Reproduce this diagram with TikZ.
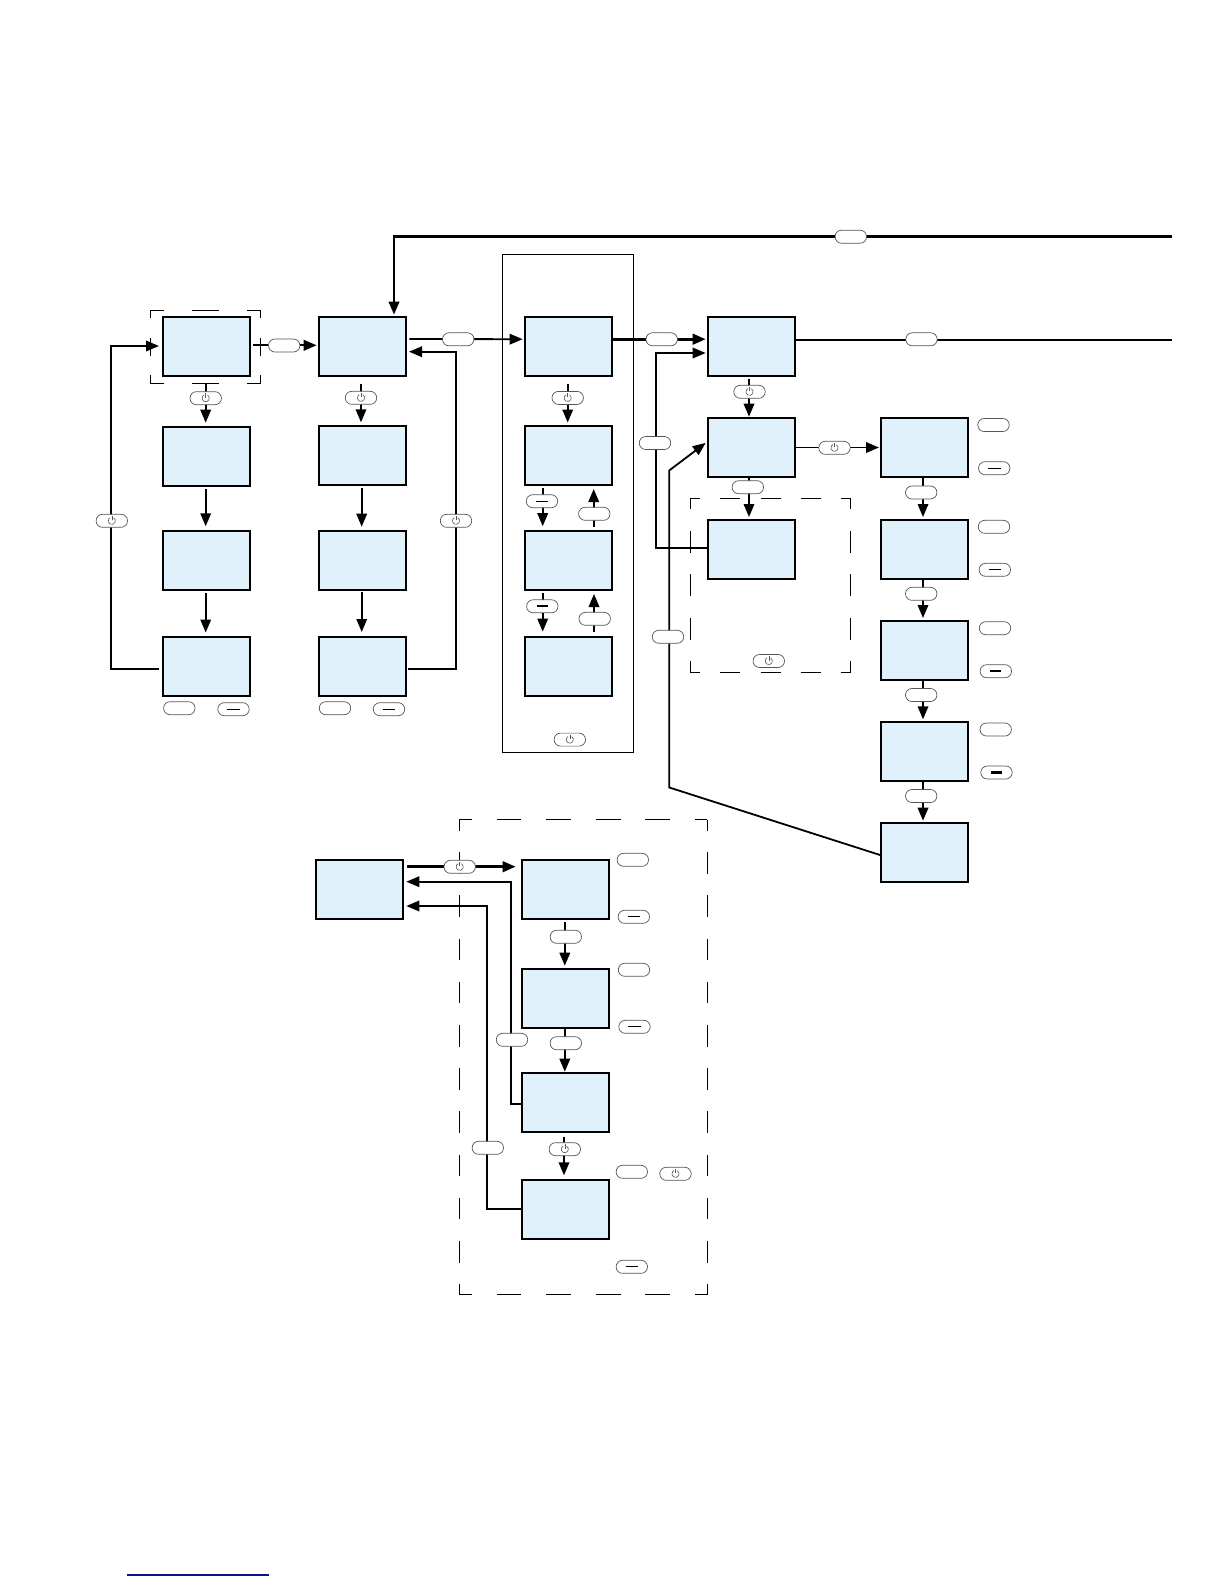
\documentclass[tikz,border=0pt]{standalone}
\usetikzlibrary{arrows.meta}
\definecolor{boxblue}{HTML}{E0F1FC}
\definecolor{pillgray}{HTML}{555555}
\definecolor{linknavy}{HTML}{10108F}
\tikzset{
  screen/.style={draw=black,fill=boxblue,line width=1.9pt,minimum width=87pt,minimum height=59pt,inner sep=0pt,outer sep=0pt,shape=rectangle},
  pill/.style={draw=pillgray,fill=white,line width=.7pt,rounded corners=6.4pt,minimum width=31.4pt,minimum height=13pt,inner sep=0pt,outer sep=0pt,shape=rectangle},
  pillp/.style={pill,path picture={
     \draw[pillgray,line width=.6pt] ([shift={(60:3.6pt)}]path picture bounding box.center) arc[start angle=60,end angle=-240,radius=3.6pt];
     \draw[pillgray,line width=.6pt] ([yshift=.5pt]path picture bounding box.center) -- ([yshift=5pt]path picture bounding box.center);}},
  pillm/.style={pill,path picture={
     \draw[black,line width=.8pt] ([xshift=-6.3pt]path picture bounding box.center) -- ([xshift=6.3pt]path picture bounding box.center);}},
  pillk/.style={pill,path picture={
     \draw[black,line width=2.1pt] ([xshift=-5.4pt]path picture bounding box.center) -- ([xshift=5.4pt]path picture bounding box.center);}},
  wire/.style={draw=black,line width=1.8pt},
  wirebold/.style={draw=black,line width=2.6pt},
  arr/.style={wire,-{Triangle[length=13pt,width=10.5pt]}},
  arrbold/.style={wirebold,-{Triangle[length=13pt,width=10.5pt]}},
  framethin/.style={draw=black,line width=.9pt},
  framehbig/.style={draw=black,line width=1.3pt,dash pattern=on 24.8pt off 24.8pt,dash phase=12.4pt},
  framevbig/.style={draw=black,line width=.9pt,dash pattern=on 21.6pt off 21.6pt,dash phase=10.8pt},
  framehmid/.style={draw=black,line width=.9pt,dash pattern=on 20pt off 20.1pt,dash phase=10pt},
  framevmid/.style={draw=black,line width=.9pt,dash pattern=on 21.7pt off 21.8pt,dash phase=10.9pt},
}
\begin{document}
\begin{tikzpicture}[x=1pt,y=-1pt]
\useasboundingbox (0,0) rectangle (1224,1584);
% frames
\draw[framethin] (502.6,254.6) rectangle (633.5,752.4);
\draw[framethin] (150.3,318.3) -- (150.3,310.3) -- (163.7,310.3);
\draw[framethin] (192,310.3) -- (218.7,310.3);
\draw[framethin] (247.3,310.3) -- (260.7,310.3) -- (260.7,318.3);
\draw[framethin] (150.3,338.3) -- (150.3,356);
\draw[framethin] (260.7,338.3) -- (260.7,356);
\draw[framethin] (150.3,375) -- (150.3,383.3) -- (163.7,383.3);
\draw[framethin] (192,383.3) -- (218.7,383.3);
\draw[framethin] (247.3,383.3) -- (260.7,383.3) -- (260.7,375);
\draw[framehmid] (690.3,498.3) -- (850.7,498.3);
\draw[framehmid] (690.3,672.3) -- (850.7,672.3);
\draw[framevmid] (690.3,498.3) -- (690.3,672.3);
\draw[framevmid] (850.7,498.3) -- (850.7,672.3);
\draw[framehbig] (459.3,819.7) -- (707.3,819.7);
\draw[framehbig] (459.3,1294.7) -- (707.3,1294.7);
\draw[framevbig] (459.3,819.7) -- (459.3,1294.7);
\draw[framevbig] (707.3,819.7) -- (707.3,1294.7);
% screens
\node[screen] (a1) at (206.5,346.3) {};
\node[screen] (a2) at (206.5,456.2) {};
\node[screen] (a3) at (206.5,560.3) {};
\node[screen] (a4) at (206.5,666.5) {};
\node[screen] (b1) at (362.3,346.3) {};
\node[screen] (b2) at (362.3,455.5) {};
\node[screen] (b3) at (362.3,560.2) {};
\node[screen] (b4) at (362.3,666.4) {};
\node[screen] (c1) at (568.5,346.5) {};
\node[screen] (c2) at (568.5,455.4) {};
\node[screen] (c3) at (568.5,560.5) {};
\node[screen] (c4) at (568.5,666.6) {};
\node[screen] (d1) at (751.2,346.5) {};
\node[screen] (d2) at (751.2,447.5) {};
\node[screen] (d3) at (751.2,549.5) {};
\node[screen] (e1) at (924.5,447.5) {};
\node[screen] (e2) at (924.5,549.2) {};
\node[screen] (e3) at (924.5,650.3) {};
\node[screen] (e4) at (924.5,751.5) {};
\node[screen] (e5) at (924.5,852.7) {};
\node[screen] (f)  at (359.5,889.2) {};
\node[screen] (g1) at (565.8,889.2) {};
\node[screen] (g2) at (565.8,998.5) {};
\node[screen] (g3) at (565.8,1102.5) {};
\node[screen] (g4) at (565.8,1209.4) {};
% free ends and bends
\coordinate (topend) at (1172,236.2);
\coordinate (midend) at (1172,339.9);
\coordinate (la) at (111,500);
\coordinate (lb) at (456,500);
\coordinate (ld) at (656,450);
\coordinate (pa) at (669.3,787.5);
\coordinate (pb) at (669.3,470.4);
\coordinate (lg3) at (511,1000);
\coordinate (lg4) at (487,1000);
% connectors
\draw[arr,shorten <=8.2pt,shorten >=4pt] ([xshift=-.8pt]a1.south) -- ([xshift=-.8pt]a2.north);
\draw[arr,shorten <=3.5pt,shorten >=4.5pt] ([xshift=-.8pt]a2.south) -- ([xshift=-.8pt]a3.north);
\draw[arr,shorten <=3.5pt,shorten >=4.5pt] ([xshift=-.8pt]a3.south) -- ([xshift=-.8pt]a4.north);
\draw[arr] ([xshift=-4pt,yshift=-2.2pt]a4.west) -| (la) |- ([xshift=-4pt,yshift=.3pt]a1.west);
\draw[arr,line width=2.2pt] ([xshift=3pt,yshift=1pt]a1.east) -- ([xshift=-2.1pt,yshift=1pt]b1.west);
\draw[arr,shorten <=8.5pt,shorten >=3.7pt] ([xshift=-1.3pt]b1.south) -- ([xshift=-1.3pt]b2.north);
\draw[arr,shorten <=3.3pt,shorten >=4pt] ([xshift=-.6pt]b2.south) -- ([xshift=-.6pt]b3.north);
\draw[arr,shorten <=2.3pt,shorten >=4.9pt] ([xshift=-.6pt]b3.south) -- ([xshift=-.6pt]b4.north);
\draw[arr] ([xshift=2.2pt,yshift=-2.3pt]b4.east) -| (lb) |- ([xshift=3.2pt,yshift=-5.4pt]b1.east);
\draw[arr] ([xshift=3.5pt,yshift=7.3pt]b1.east) -- ([xshift=-2.3pt,yshift=7.3pt]c1.west);
\draw[arrbold] (topend) -| ([xshift=31.7pt,yshift=2.2pt]b1.north);
\draw[arrbold] ([yshift=7.3pt]c1.east) -- ([xshift=-2pt,yshift=7.3pt]d1.west);
\draw[arr,shorten <=8.3pt,shorten >=3.4pt] ([xshift=-.8pt]c1.south) -- ([xshift=-.8pt]c2.north);
\draw[arr,shorten <=3.4pt,shorten >=4.8pt] ([xshift=-25.8pt]c2.south) -- ([xshift=-25.8pt]c3.north);
\draw[arr,shorten <=4pt,shorten >=4.1pt] ([xshift=25.2pt]c3.north) -- ([xshift=25.2pt]c2.south);
\draw[arr,shorten <=3pt,shorten >=5.5pt] ([xshift=-25.8pt]c3.south) -- ([xshift=-25.8pt]c4.north);
\draw[arr,shorten <=5.1pt,shorten >=4pt] ([xshift=25.5pt]c4.north) -- ([xshift=25.5pt]c3.south);
\draw[arr] ([yshift=1.5pt]d3.west) -| (ld) |- ([xshift=-2pt,yshift=-6.5pt]d1.west);
\draw[arr,shorten <=2.5pt,shorten >=1.3pt] ([xshift=-2.2pt]d1.south) -- ([xshift=-2.2pt]d2.north);
\draw[arr,shorten >=3pt] ([xshift=-2.2pt]d2.south) -- ([xshift=-2.2pt]d3.north);
\draw[arr] (d2.east) -- ([xshift=-2pt]e1.west);
\draw[wire] ([xshift=1.5pt,yshift=6.6pt]d1.east) -- (midend);
\draw[arr,shorten >=2.7pt] ([xshift=-1.5pt]e1.south) -- ([xshift=-1.5pt]e2.north);
\draw[arr,shorten >=2.8pt] ([xshift=-1.5pt]e2.south) -- ([xshift=-1.5pt]e3.north);
\draw[arr,shorten >=2.7pt] ([xshift=-1.5pt]e3.south) -- ([xshift=-1.5pt]e4.north);
\draw[arr,shorten >=2.5pt] ([xshift=-1.5pt]e4.south) -- ([xshift=-1.5pt]e5.north);
\draw[arr] ([yshift=-2.6pt]e5.west) -- (pa) -- (pb) -- ([xshift=-2pt,yshift=4.6pt]d2.west);
\draw[arrbold] ([xshift=4pt,yshift=22.5pt]f.east) -- ([xshift=-6.6pt,yshift=22.5pt]g1.west);
\draw[arr] ([yshift=-1.2pt]g3.west) -| (lg3) |- ([xshift=3.3pt,yshift=7.5pt]f.east);
\draw[arr] ([yshift=.7pt]g4.west) -| (lg4) |- ([xshift=3.3pt,yshift=-16.8pt]f.east);
\draw[arr,shorten <=3.5pt,shorten >=3.3pt] ([xshift=-1pt]g1.south) -- ([xshift=-1pt]g2.north);
\draw[arr,shorten >=1.3pt] ([xshift=-1pt]g2.south) -- ([xshift=-1pt]g3.north);
\draw[arr,shorten <=5pt,shorten >=4.6pt] ([xshift=-1.8pt]g3.south) -- ([xshift=-1.8pt]g4.north);
% pills
\node[pill]  (p01) at (284.2,345.5) {};
\node[pillp] (p02) at (205.7,398.2) {};
\node[pillp] (p03) at (111.8,520.8) {};
\node[pill]  (p04) at (179.3,708.2) {};
\node[pillm] (p05) at (233.5,709.2) {};
\node[pillp] (p06) at (361,397.8) {};
\node[pillp] (p07) at (456,520.8) {};
\node[pill]  (p08) at (335,708.2) {};
\node[pillm] (p09) at (389,709.2) {};
\node[pill]  (p10) at (458.2,339.3) {};
\node[pill]  (p11) at (850.8,236.7) {};
\node[pillp] (p12) at (567.7,397.9) {};
\node[pillm] (p13) at (542,501.2) {};
\node[pill]  (p14) at (594.3,513.8) {};
\node[pillk] (p15) at (542.3,606.3) {};
\node[pill]  (p16) at (594.7,618.8) {};
\node[pillp] (p17) at (569.8,739.6) {};
\node[pill]  (p18) at (661.7,339.3) {};
\node[pill]  (p19) at (655,443) {};
\node[pill]  (p20) at (668,636.8) {};
\node[pill]  (p21) at (921.5,339.3) {};
\node[pillp] (p22) at (749.5,391.8) {};
\node[pill]  (p23) at (747.8,487.2) {};
\node[pillp] (p24) at (834.5,447.8) {};
\node[pillp] (p25) at (768.8,661) {};
\node[pill]  (p26) at (921.2,492.5) {};
\node[pill]  (p27) at (921.2,593.8) {};
\node[pill]  (p28) at (921.2,695) {};
\node[pill]  (p29) at (921.2,796) {};
\node[pill]  (p30) at (993.5,425) {};
\node[pillm] (p31) at (994.2,468.2) {};
\node[pill]  (p32) at (994,526.8) {};
\node[pillm] (p33) at (994.8,569.8) {};
\node[pill]  (p34) at (995,628.2) {};
\node[pillk] (p35) at (995.8,671.2) {};
\node[pill]  (p36) at (995.7,729.5) {};
\node[pillk] (p37) at (996.5,772.5) {};
\node[pillp] (p38) at (459.7,866.8) {};
\node[pill]  (p39) at (565.8,936.8) {};
\node[pill]  (p40) at (565.8,1043.2) {};
\node[pill]  (p41) at (512,1039.8) {};
\node[pillp] (p42) at (564.8,1149.2) {};
\node[pill]  (p43) at (487.8,1147.8) {};
\node[pill]  (p44) at (632.8,859.8) {};
\node[pillm] (p45) at (633.8,916.8) {};
\node[pill]  (p46) at (634,969.8) {};
\node[pillm] (p47) at (634.5,1026.8) {};
\node[pill]  (p48) at (631.8,1171.8) {};
\node[pillp] (p49) at (675.5,1173.8) {};
\node[pillm] (p50) at (631.8,1266.8) {};
% footer rule
\draw[linknavy,line width=1.1pt] (127,1575) -- (269,1575);
\end{tikzpicture}
\end{document}
